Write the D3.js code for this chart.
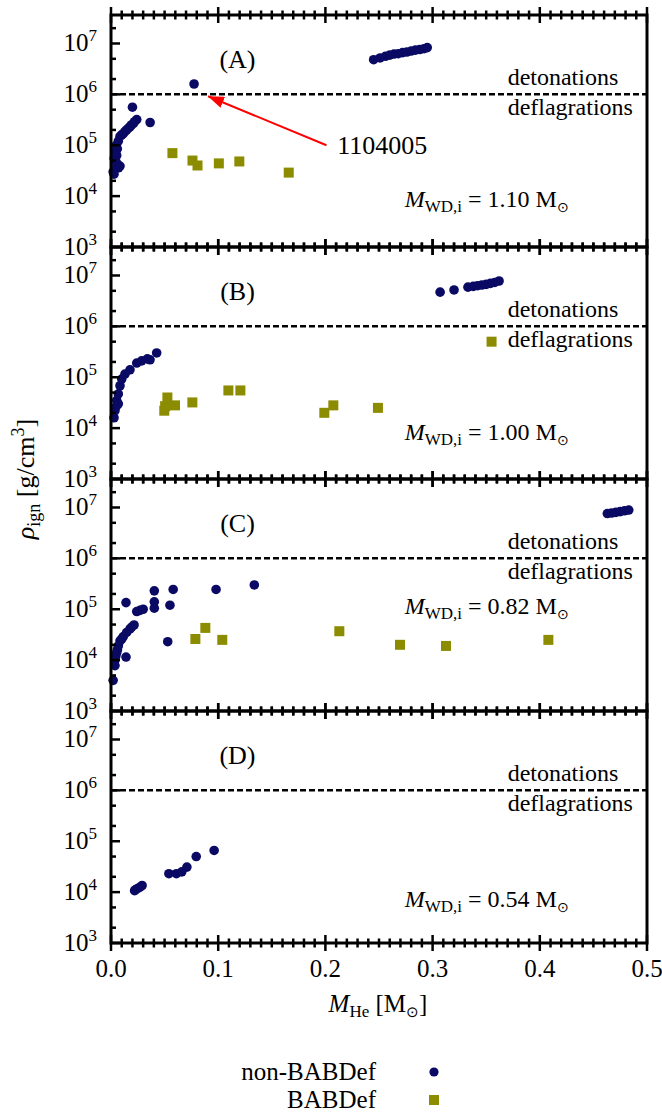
<!DOCTYPE html>
<html>
<head>
<meta charset="utf-8">
<script src="https://cdn.jsdelivr.net/npm/d3@7"></script>
<style>
body { margin: 0; background: #fff; }
text { font-family: "Liberation Serif", "Times New Roman", serif; fill: #000; }
</style>
</head>
<body>
<div class="chart"></div>
<script>
// ---- data ----
const xTicks = [0, 0.1, 0.2, 0.3, 0.4, 0.5];
const yDecades = [1e3, 1e4, 1e5, 1e6, 1e7];
const panelNames = ["(A)", "(B)", "(C)", "(D)"];
const wdMasses = ["1.10", "1.00", "0.82", "0.54"];
const legendNames = ["non-BABDef", "BABDef"];
const threshold = 1e6;

// [M_He, rho_ign]
const nonBabA = [
  [0.245,4.8e6],[0.251,5.2e6],[0.256,5.6e6],[0.260,5.9e6],[0.264,6.2e6],[0.268,6.3e6],[0.272,6.6e6],
  [0.276,6.8e6],[0.280,7.1e6],[0.284,7.4e6],[0.288,7.6e6],[0.292,7.9e6],[0.295,8.3e6],
  [0.0775,1.6e6],[0.020,5.6e5],[0.0365,2.8e5],
  [0.024,3.2e5],[0.022,2.9e5],[0.021,2.7e5],[0.019,2.5e5],[0.0177,2.3e5],[0.016,2.15e5],[0.0146,2.0e5],
  [0.013,1.85e5],[0.0115,1.7e5],[0.010,1.6e5],[0.0084,1.5e5],[0.0068,1.2e5],[0.0059,8.5e4],[0.005,1.0e5],
  [0.004,7.5e4],[0.0053,6.3e4],[0.003,5.5e4],[0.0047,4.7e4],[0.006,4.2e4],[0.0084,3.9e4],[0.007,3.6e4],
  [0.0037,3.4e4],[0.002,3.0e4],[0.0028,2.7e4]
];
const babA = [[0.0573,7.0e4],[0.076,5.0e4],[0.0807,4.0e4],[0.1006,4.4e4],[0.1197,4.8e4],[0.1658,2.9e4]];

const nonBabB = [
  [0.307,4.7e6],[0.320,5.2e6],[0.333,5.9e6],[0.338,6.1e6],[0.342,6.3e6],[0.346,6.5e6],[0.350,6.7e6],
  [0.354,7.0e6],[0.358,7.3e6],[0.362,7.8e6],
  [0.0028,1.6e4],[0.0037,2.2e4],[0.005,2.7e4],[0.0053,3.5e4],[0.0068,3.0e4],[0.0068,4.7e4],[0.0084,6.8e4],
  [0.010,9.2e4],[0.013,1.15e5],[0.0177,1.4e5],[0.024,1.9e5],[0.0286,2.1e5],[0.0339,2.3e5],[0.0364,2.2e5],
  [0.0426,3.0e5]
];
const babB = [[0.0497,2.2e4],[0.0505,2.7e4],[0.0526,4.0e4],[0.0597,2.8e4],[0.0759,3.2e4],[0.1095,5.5e4],
  [0.1207,5.5e4],[0.199,2.0e4],[0.2074,2.8e4],[0.249,2.5e4],[0.355,5.0e5]];

const nonBabC = [
  [0.463,7.6e6],[0.467,7.8e6],[0.471,8.0e6],[0.475,8.3e6],[0.479,8.6e6],[0.483,8.9e6],
  [0.014,1.35e5],[0.0404,2.3e5],[0.0404,1.4e5],[0.0404,1.05e5],[0.058,2.45e5],[0.055,1.2e5],
  [0.0529,2.3e4],[0.098,2.45e5],[0.1337,3.0e5],[0.014,1.15e4],[0.002,4.0e3],
  [0.024,9.0e4],[0.027,9.5e4],[0.030,1.0e5],[0.0215,4.9e4],[0.019,4.4e4],[0.0177,4.1e4],[0.0146,3.5e4],
  [0.0115,2.9e4],[0.010,2.6e4],[0.0084,2.4e4],[0.0068,1.9e4],[0.006,1.6e4],[0.0053,1.4e4],[0.0045,1.2e4],
  [0.0037,1.0e4],[0.0037,7.8e3]
];
const babC = [[0.0787,2.6e4],[0.088,4.3e4],[0.1038,2.5e4],[0.213,3.7e4],[0.2696,2.0e4],[0.3125,1.9e4],[0.408,2.5e4]];

const nonBabD = [[0.022,1.07e4],[0.023,1.12e4],[0.025,1.18e4],[0.027,1.25e4],[0.029,1.35e4],[0.054,2.3e4],
  [0.061,2.3e4],[0.066,2.5e4],[0.0708,3.1e4],[0.0795,5.0e4],[0.0962,6.6e4]];
const babD = [];

const nonBab = [nonBabA, nonBabB, nonBabC, nonBabD];
const bab = [babA, babB, babC, babD];

// ---- layout ----
const W = 662, H = 1112;
const left = 111, right = 647, top0 = 15, panelH = 232;
const massLabelY = [192, 193, 135, 196];   // baseline offset from panel top
const navy = "#0a0a64", olive = "#8c8c00";

const svg = d3.select(".chart").append("svg")
    .attr("width", W)
    .attr("height", H);

svg.append("defs").append("marker")
    .attr("id", "head")
    .attr("markerUnits", "userSpaceOnUse")
    .attr("markerWidth", 16).attr("markerHeight", 12)
    .attr("refX", 16).attr("refY", 6)
    .attr("orient", "auto")
    .append("path")
    .attr("d", "M0,0L16,6L0,12Z")
    .attr("fill", "red");

const xScale = d3.scaleLinear().domain([0, 0.5]).range([left, right]);
const xMinor = d3.range(0, 51).map(i => i / 100);

panelNames.forEach((name, i) => {
    const top = top0 + i * panelH;
    const yScale = d3.scaleLog().domain([1e3, Math.pow(10, 7.56)]).range([top + panelH, top]);
    const g = svg.append("g");

    // threshold line
    g.append("line")
        .attr("x1", left).attr("x2", right)
        .attr("y1", yScale(threshold)).attr("y2", yScale(threshold))
        .attr("stroke", "#000").attr("stroke-width", 2.5)
        .attr("stroke-dasharray", "6,3");

    // points
    g.selectAll(".sq").data(bab[i]).join("rect")
        .attr("x", d => xScale(d[0]) - 5)
        .attr("y", d => yScale(d[1]) - 5)
        .attr("width", 10).attr("height", 10)
        .attr("fill", olive);

    g.selectAll(".dot").data(nonBab[i]).join("circle")
        .attr("cx", d => xScale(d[0]))
        .attr("cy", d => yScale(d[1]))
        .attr("r", 4.8)
        .attr("fill", navy);

    // frame
    g.append("rect")
        .attr("x", left).attr("y", top)
        .attr("width", right - left).attr("height", panelH)
        .attr("fill", "none").attr("stroke", "#000").attr("stroke-width", 3);

    // x ticks on top and bottom border (both sides)
    [top, top + panelH].forEach(yy => {
        g.selectAll(null).data(xMinor).join("line")
            .attr("x1", d => xScale(d)).attr("x2", d => xScale(d))
            .attr("y1", d => yy - (Math.round(d * 100) % 10 === 0 ? 8 : 4.5))
            .attr("y2", d => yy + (Math.round(d * 100) % 10 === 0 ? 8 : 4.5))
            .attr("stroke", "#000").attr("stroke-width", 2.5);
    });

    // y ticks, inward on the left axis
    const yMinor = [];
    yDecades.forEach(d => { [2, 5].forEach(m => { if (d * m < yScale.domain()[1]) yMinor.push(d * m); }); });
    g.selectAll(null).data(yDecades).join("line")
        .attr("x1", left).attr("x2", left + 9)
        .attr("y1", d => yScale(d)).attr("y2", d => yScale(d))
        .attr("stroke", "#000").attr("stroke-width", 2.5);
    g.selectAll(null).data(yMinor).join("line")
        .attr("x1", left).attr("x2", left + 5)
        .attr("y1", d => yScale(d)).attr("y2", d => yScale(d))
        .attr("stroke", "#000").attr("stroke-width", 2.5);

    // y tick labels 10^n
    const yl = g.selectAll(null).data(yDecades).join("text")
        .attr("x", 97)
        .attr("y", d => yScale(d) + 8)
        .attr("text-anchor", "end")
        .attr("font-size", 25);
    yl.append("tspan").text("10");
    yl.append("tspan").attr("dy", -10).attr("font-size", 17).text(d => Math.round(Math.log10(d)));

    // panel name
    g.append("text")
        .attr("x", xScale(0.118)).attr("y", top + 53)
        .attr("text-anchor", "middle")
        .attr("font-size", 26)
        .text(name);

    // detonation / deflagration labels
    g.append("text")
        .attr("x", xScale(0.370)).attr("y", yScale(threshold) - 9)
        .attr("font-size", 24).text("detonations");
    g.append("text")
        .attr("x", xScale(0.370)).attr("y", yScale(threshold) + 21)
        .attr("font-size", 24).text("deflagrations");

    // WD mass label
    const ml = g.append("text")
        .attr("x", xScale(0.274)).attr("y", top + massLabelY[i])
        .attr("font-size", 24);
    ml.append("tspan").attr("font-style", "italic").text("M");
    ml.append("tspan").attr("dy", 5).attr("font-size", 17).text("WD,i");
    ml.append("tspan").attr("dy", -5).text(" = " + wdMasses[i] + " M");
    ml.append("tspan").attr("dy", 5).attr("font-size", 14).text("⊙");

    if (i === 0) {
        g.append("line")
            .attr("x1", xScale(0.201)).attr("y1", yScale(1.0e5))
            .attr("x2", xScale(0.0905)).attr("y2", yScale(9.2e5))
            .attr("stroke", "red").attr("stroke-width", 2)
            .attr("marker-end", "url(#head)");
        g.append("text")
            .attr("x", xScale(0.211)).attr("y", yScale(1.0e5) + 9)
            .attr("font-size", 26)
            .text("1104005");
    }
});

// x tick labels
const bottom = top0 + 4 * panelH;
svg.selectAll(".xl").data(xTicks).join("text")
    .attr("x", d => xScale(d))
    .attr("y", bottom + 34)
    .attr("text-anchor", "middle")
    .attr("font-size", 25)
    .text(d => d3.format(".1f")(d));

// x axis label
const xl = svg.append("text")
    .attr("x", 378).attr("y", bottom + 69)
    .attr("text-anchor", "middle")
    .attr("font-size", 25);
xl.append("tspan").attr("font-style", "italic").text("M");
xl.append("tspan").attr("dy", 5).attr("font-size", 17).text("He");
xl.append("tspan").attr("dy", -5).text(" [M");
xl.append("tspan").attr("dy", 5).attr("font-size", 15).text("⊙");
xl.append("tspan").attr("dy", -5).text("]");

// y axis label
const yLab = svg.append("text")
    .attr("transform", "translate(34," + (top0 + 2 * panelH) + ") rotate(-90)")
    .attr("text-anchor", "middle")
    .attr("font-size", 26);
yLab.append("tspan").attr("font-style", "italic").text("ρ");
yLab.append("tspan").attr("dy", 6).attr("font-size", 18).text("ign");
yLab.append("tspan").attr("dy", -6).text(" [g/cm");
yLab.append("tspan").attr("dy", -10).attr("font-size", 18).text("3");
yLab.append("tspan").attr("dy", 10).text("]");

// legend
legendNames.forEach((name, i) => {
    const ly = bottom + 129 + i * 28;
    svg.append("text")
        .attr("x", 376).attr("y", ly + 8)
        .attr("text-anchor", "end")
        .attr("font-size", 25)
        .text(name);
    if (i === 0) {
        svg.append("circle").attr("cx", 434).attr("cy", ly).attr("r", 4.6).attr("fill", navy);
    } else {
        svg.append("rect").attr("x", 429).attr("y", ly - 5).attr("width", 10).attr("height", 10).attr("fill", olive);
    }
});
</script>
</body>
</html>
